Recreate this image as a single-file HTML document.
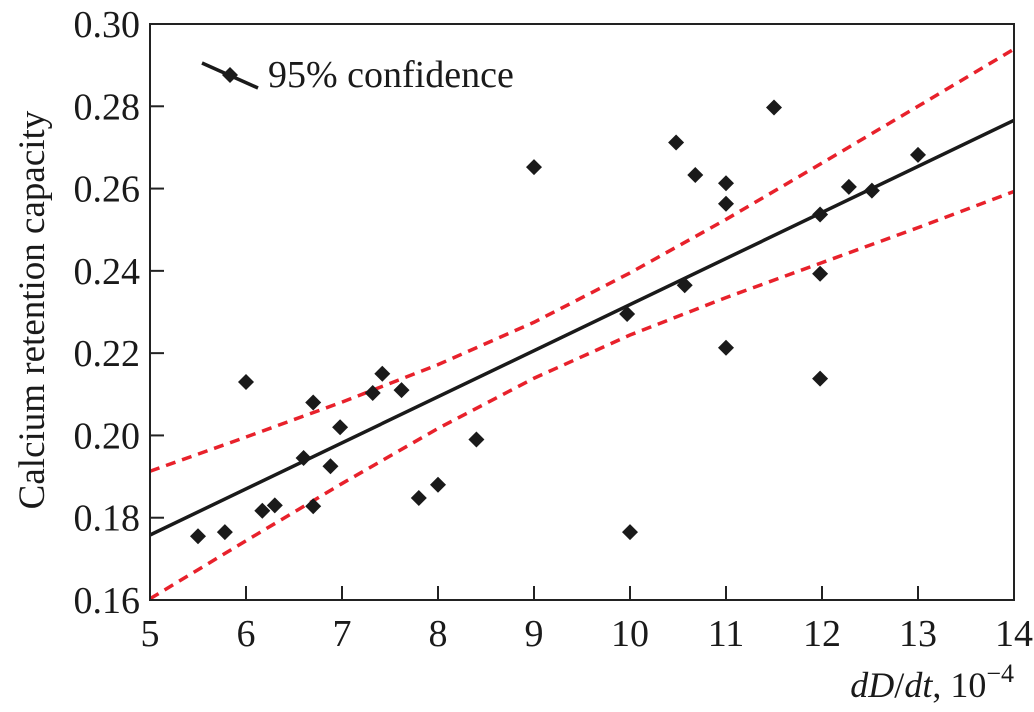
<!DOCTYPE html>
<html><head><meta charset="utf-8"><style>
body{margin:0;background:#fff}
svg{display:block}
text{font-family:"Liberation Serif","Times New Roman","DejaVu Serif",serif}
</style></head><body>
<svg id="chart" width="1034" height="712" viewBox="0 0 1034 712">
<g id="plot"></g>
</svg>
<script>
const xTicks=[5,6,7,8,9,10,11,12,13,14];
const yTicks=[0.16,0.18,0.20,0.22,0.24,0.26,0.28,0.30];
const yTickLabels=["0.16","0.18","0.20","0.22","0.24","0.26","0.28","0.30"];
const ptX=[5.5,5.78,6.0,6.17,6.3,6.6,6.7,6.7,6.88,6.98,7.32,7.42,7.62,7.8,8.0,8.4,9.0,9.97,10.0,10.48,10.57,10.68,11.0,11.0,11.0,11.5,11.98,11.98,11.98,12.28,12.52,13.0];
const ptY=[0.1755,0.1765,0.213,0.1817,0.183,0.1945,0.208,0.1828,0.1925,0.202,0.2103,0.215,0.211,0.1848,0.188,0.199,0.2652,0.2295,0.1765,0.2712,0.2365,0.2633,0.2613,0.2563,0.2213,0.2797,0.2537,0.2393,0.2138,0.2604,0.2595,0.2682];
const fitX=[5,14];
const fitY=[0.1758,0.2766];
const bandX=[5,6,7,8,9,10,11,12,13,14];
const upperY=[0.1913,0.1996,0.2081,0.2172,0.2275,0.2395,0.2525,0.2662,0.2800,0.2939];
const lowerY=[0.1603,0.1744,0.1883,0.2017,0.2139,0.2244,0.2335,0.2420,0.2505,0.2593];

const L=150,R=1014,T=24,B=600;
const sx=v=>L+(v-5)/(14-5)*(R-L);
const sy=v=>B-(v-0.16)/(0.30-0.16)*(B-T);
const NS="http://www.w3.org/2000/svg";
const g=document.getElementById('plot');
function mk(t,a,p){const e=document.createElementNS(NS,t);for(const k in a)e.setAttribute(k,a[k]);(p||g).appendChild(e);return e;}

let e;
e=mk('polyline',{points:bandX.map((x,i)=>sx(x)+','+sy(upperY[i])).join(' '),fill:'none',stroke:'#e8212b','stroke-width':3.5,'stroke-dasharray':'10 7'});


e=mk('polyline',{points:bandX.map((x,i)=>sx(x)+','+sy(lowerY[i])).join(' '),fill:'none',stroke:'#e8212b','stroke-width':3.5,'stroke-dasharray':'10 7'});


e=mk('line',{x1:sx(fitX[0]),y1:sy(fitY[0]),x2:sx(fitX[1]),y2:sy(fitY[1]),stroke:'#1a1a1a','stroke-width':3.5});


ptX.forEach((x,i)=>{const cx=sx(x),cy=sy(ptY[i]),r=8;
 const p=mk('polygon',{points:`${cx},${cy-r} ${cx+r},${cy} ${cx},${cy+r} ${cx-r},${cy}`,fill:'#1a1a1a'});
 
 
});
e=mk('rect',{x:L,y:T,width:R-L,height:B-T,fill:'none',stroke:'#222','stroke-width':2});


xTicks.forEach(v=>{
 const t=mk('line',{x1:sx(v),y1:B,x2:sx(v),y2:B-14,stroke:'#222','stroke-width':2});
 
 
 const l=mk('text',{x:sx(v),y:B+46,'text-anchor':'middle','font-size':38,fill:'#1a1a1a'});
 l.textContent=v;
 
 
});
yTicks.forEach((v,i)=>{
 const t=mk('line',{x1:L,y1:sy(v),x2:L+14,y2:sy(v),stroke:'#222','stroke-width':2});
 
 
 const l=mk('text',{x:L-10,y:sy(v)+13,'text-anchor':'end','font-size':38,fill:'#1a1a1a'});
 l.textContent=yTickLabels[i];
 
 
});
</script>
<svg style="position:absolute;left:0;top:0" width="1034" height="712">
<text x="44" y="310" transform="rotate(-90 44 310)" text-anchor="middle" font-size="37" fill="#1a1a1a">Calcium retention capacity</text>
<text x="1014" y="697" text-anchor="end" font-size="36" fill="#1a1a1a"><tspan font-style="italic">dD</tspan>/<tspan font-style="italic">dt</tspan>, 10<tspan dy="-15" font-size="26">−4</tspan></text>
<g>
<line x1="202" y1="63" x2="258" y2="88" stroke="#1a1a1a" stroke-width="3.5"/>
<polygon points="230,67 238,75 230,83 222,75" fill="#1a1a1a"/>
<text x="268" y="87" font-size="38" fill="#1a1a1a">95% confidence</text>
</g>
</svg>
</body></html>
